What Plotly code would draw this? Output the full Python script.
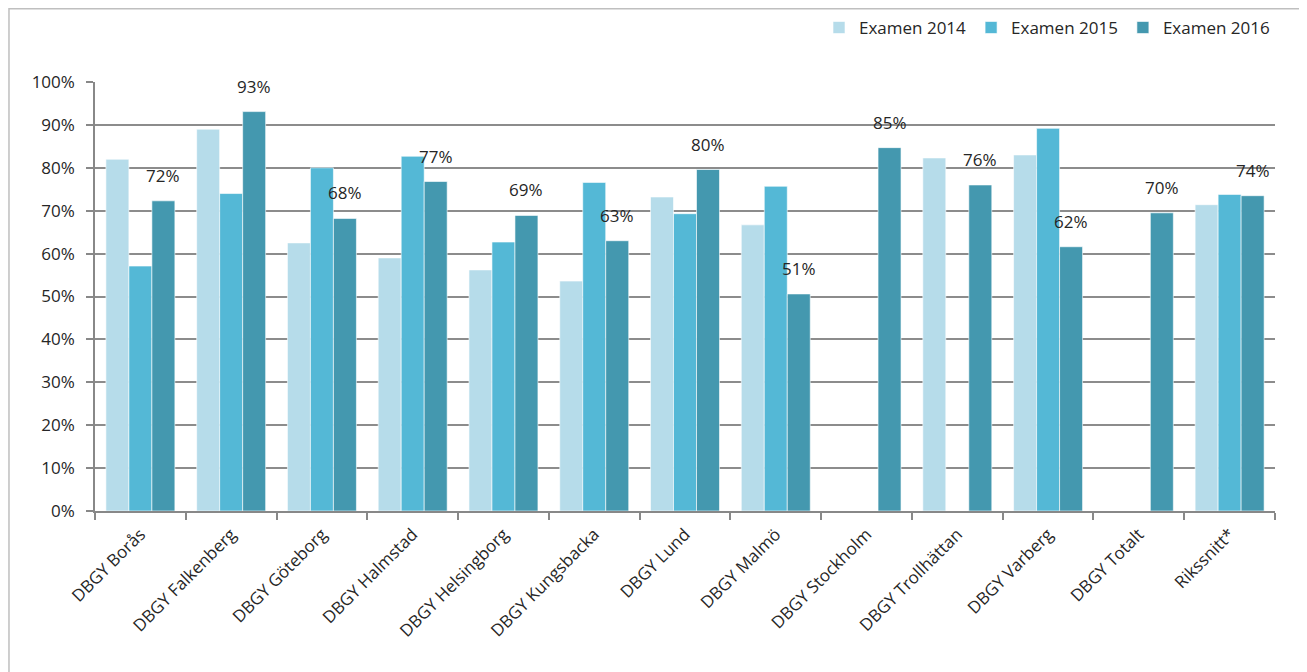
import plotly.graph_objects as go

categories = ["DBGY Borås", "DBGY Falkenberg", "DBGY Göteborg", "DBGY Halmstad",
              "DBGY Helsingborg", "DBGY Kungsbacka", "DBGY Lund", "DBGY Malmö",
              "DBGY Stockholm", "DBGY Trollhättan", "DBGY Varberg", "DBGY Totalt",
              "Rikssnitt*"]
examen_2014 = [82, 89, 62.5, 59, 56.2, 53.6, 73.2, 66.7, None, 82.3, 83.0, None, 71.4]
examen_2015 = [57.1, 74, 80, 82.7, 62.7, 76.6, 69.3, 75.7, None, None, 89.2, None, 73.8]
examen_2016 = [72.3, 93.1, 68.2, 76.8, 68.9, 63.0, 79.6, 50.6, 84.7, 76.0, 61.6, 69.5, 73.5]
series_names = ["Examen 2014", "Examen 2015", "Examen 2016"]
colors = ["#B6DCEA", "#54B8D6", "#4498AF"]
y_ticks = list(range(0, 101, 10))
y_tick_labels = [f"{v}%" for v in y_ticks]

FONT = "Open Sans"

fig = go.Figure()
for name, vals, col in zip(series_names, [examen_2014, examen_2015, examen_2016], colors):
    fig.add_trace(go.Bar(
        x=categories, y=vals, name=name,
        marker=dict(color=col, line=dict(color="rgba(255,255,255,0.6)", width=1)),
        hoverinfo="skip",
    ))

# data labels for 2016 series
for c, v in zip(categories, examen_2016):
    fig.add_annotation(
        x=c, y=v, text=f"{round(v):d}%", showarrow=False,
        xref="x", yref="y", xanchor="center", yanchor="bottom",
        xshift=23, yshift=12,
        font=dict(family=FONT, size=17, color="#262626"),
    )

# outer chart frame
fig.add_shape(type="rect", xref="paper", yref="paper",
              x0=-0.0729, x1=1.0212, y0=-0.40, y1=1.171,
              line=dict(color="#BFBFBF", width=1.5), fillcolor="rgba(0,0,0,0)",
              layer="below")

fig.update_layout(
    width=1299, height=664,
    margin=dict(l=87, r=32, t=74, b=161, autoexpand=False),
    paper_bgcolor="white", plot_bgcolor="white",
    barmode="group", bargap=0.24, bargroupgap=0,
    font=dict(family=FONT, size=16, color="#262626"),
    showlegend=True,
    legend=dict(orientation="h", x=1.0, xanchor="right", y=1.126, yanchor="middle",
                font=dict(family=FONT, size=17, color="#262626"),
                itemwidth=30, tracegroupgap=0, bgcolor="rgba(0,0,0,0)"),
    xaxis=dict(
        type="category", tickangle=-45, showline=True, linecolor="#888888", linewidth=1.5,
        ticks="outside", tickson="boundaries", ticklen=7, tickcolor="#888888", tickwidth=1.5,
        ticklabelstandoff=5,
        showgrid=False, automargin=False, tickfont=dict(family=FONT, size=17, color="#262626"),
    ),
    yaxis=dict(
        range=[0, 100], tickvals=y_ticks, ticktext=y_tick_labels,
        showline=True, linecolor="#888888", linewidth=1.5,
        ticks="outside", ticklen=7, tickcolor="#888888", tickwidth=1.5,
        ticklabelstandoff=8,
        showgrid=True, gridcolor="#8C8C8C", gridwidth=1.5, automargin=False,
        zeroline=False, tickfont=dict(family=FONT, size=17, color="#262626"),
    ),
)

fig.write_html("out.html")
